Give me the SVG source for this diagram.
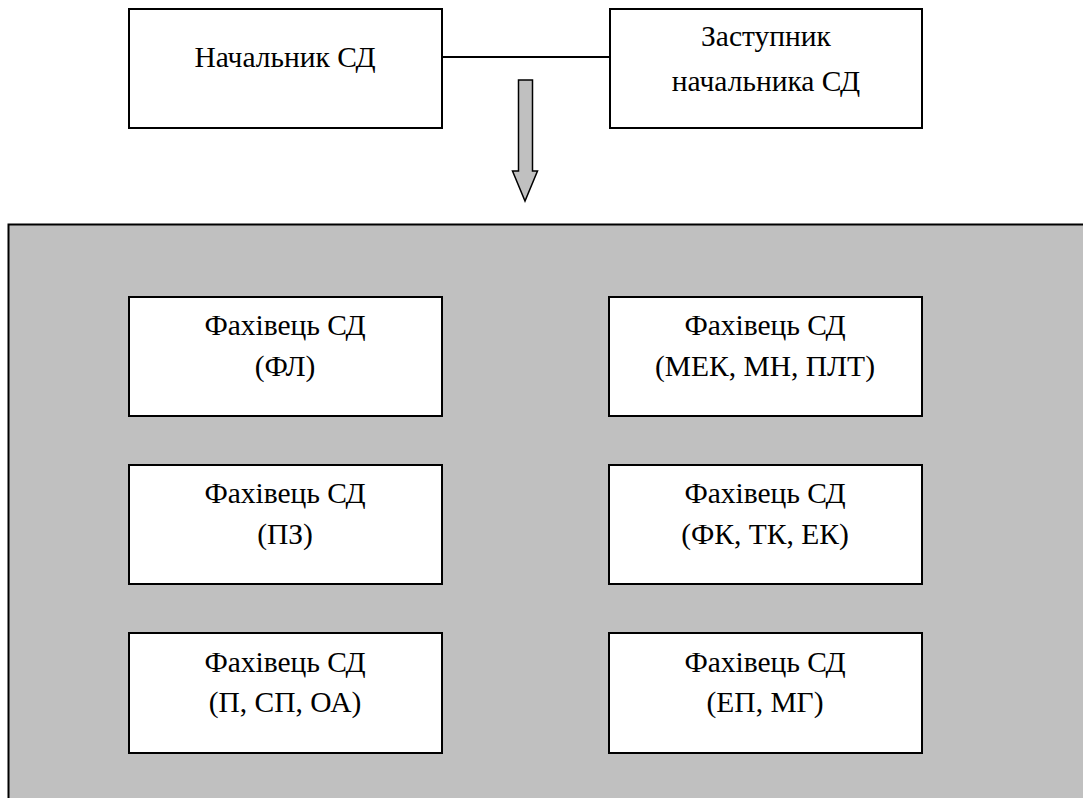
<svg xmlns="http://www.w3.org/2000/svg" width="1083" height="798" viewBox="0 0 1083 798">
<style>
.box{fill:#ffffff;stroke:#000000;stroke-width:2}
.t{font-family:'Liberation Serif','Times New Roman',serif;font-size:29.5px;fill:#000000;text-anchor:middle}
.ln{stroke:#000000;stroke-width:2;fill:none}
</style>
<rect width="1083" height="798" fill="#ffffff"/>
<g id="group-panel">
<rect x="8.5" y="224.5" width="1090" height="590" fill="#c0c0c0" stroke="#000000" stroke-width="2"/>
</g>
<g id="connectors">
<line class="ln" x1="442" y1="57" x2="610" y2="57"/>
<polygon points="518.5,80 532.5,80 532.5,171 537.5,171 525,201 512.5,171 518.5,171" fill="#c0c0c0" stroke="#000000" stroke-width="1.5"/>
</g>
<g id="node-head">
<rect class="box" x="129" y="9" width="313" height="119"/>
<text class="t" x="285" y="67">Начальник СД</text>
</g>
<g id="node-deputy">
<rect class="box" x="610" y="9" width="312" height="119"/>
<text class="t" x="766" y="46">Заступник</text>
<text class="t" x="766" y="91">начальника СД</text>
</g>
<g id="node-fl">
<rect class="box" x="129" y="297" width="313" height="119"/>
<text class="t" x="285" y="335">Фахівець СД</text>
<text class="t" x="285" y="376">(ФЛ)</text>
</g>
<g id="node-mek">
<rect class="box" x="609" y="297" width="313" height="119"/>
<text class="t" x="765" y="335">Фахівець СД</text>
<text class="t" x="765" y="376">(МЕК, МН, ПЛТ)</text>
</g>
<g id="node-pz">
<rect class="box" x="129" y="465" width="313" height="119"/>
<text class="t" x="285" y="503">Фахівець СД</text>
<text class="t" x="285" y="544">(ПЗ)</text>
</g>
<g id="node-fk">
<rect class="box" x="609" y="465" width="313" height="119"/>
<text class="t" x="765" y="503">Фахівець СД</text>
<text class="t" x="765" y="544">(ФК, ТК, ЕК)</text>
</g>
<g id="node-p">
<rect class="box" x="129" y="633" width="313" height="120"/>
<text class="t" x="285" y="672">Фахівець СД</text>
<text class="t" x="285" y="712">(П, СП, ОА)</text>
</g>
<g id="node-ep">
<rect class="box" x="609" y="633" width="313" height="120"/>
<text class="t" x="765" y="672">Фахівець СД</text>
<text class="t" x="765" y="712">(ЕП, МГ)</text>
</g>
</svg>
